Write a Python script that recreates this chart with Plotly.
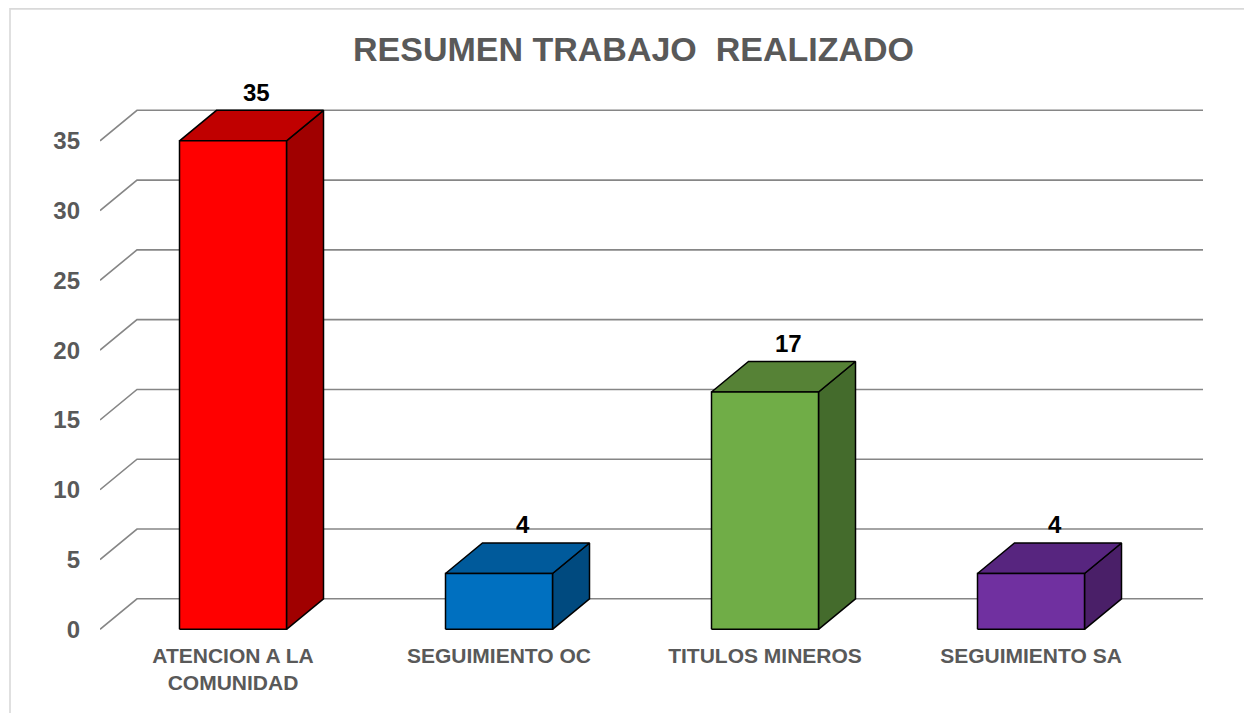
import plotly.graph_objects as go

# ---- data ----
categories = ["ATENCION A LA<br>COMUNIDAD", "SEGUIMIENTO OC", "TITULOS MINEROS", "SEGUIMIENTO SA"]
values = [35, 4, 17, 4]
y_ticks = [0, 5, 10, 15, 20, 25, 30, 35]
front_colors = ["#FF0000", "#0070C0", "#70AD47", "#7030A0"]
top_colors = ["#C00000", "#005A9B", "#568236", "#57257F"]
side_colors = ["#A00000", "#004A7F", "#446B2C", "#4A1F68"]
title_text = "RESUMEN TRABAJO  REALIZADO"

# ---- layout geometry (pixels, page body has an 8px margin) ----
OFF = 8
W, H = 1252 - OFF, 713 - OFF
L, T = 100 - OFF, 90 - OFF
R = W - (1203 - OFF)
B = H - (641 - OFF)
plot_w = W - L - R
plot_h = H - T - B
px_per_x = 266.0
px_per_y = 13.957
x0_px = 233.0 - OFF          # pixel of category 0 centre
y0_px = 629.3 - OFF          # pixel of value 0 (front plane)

x_min = (L - x0_px) / px_per_x
x_max = (W - R - x0_px) / px_per_x
y_min = (y0_px - (H - B)) / px_per_y
y_max = (y0_px - T) / px_per_y

bar_w = 107 / px_per_x
dx = 37 / px_per_x
dy = 30.5 / px_per_y

FONT = "Liberation Sans, Arial, sans-serif"
GRAY_TXT = "#595959"

fig = go.Figure()

# back-wall gridlines with left diagonal
left_edge = x_min
for t in y_ticks:
    fig.add_trace(go.Scatter(
        x=[left_edge, left_edge + dx, x_max],
        y=[t, t + dy, t + dy],
        mode="lines", line=dict(color="#868686", width=1.6),
        hoverinfo="skip", showlegend=False))

# 3D bars
for i, v in enumerate(values):
    xl, xr = i - bar_w / 2, i + bar_w / 2
    # side face
    fig.add_trace(go.Scatter(
        x=[xr, xr + dx, xr + dx, xr, xr],
        y=[0, dy, v + dy, v, 0],
        mode="lines", fill="toself", fillcolor=side_colors[i],
        line=dict(color="#000000", width=1.5),
        hoverinfo="skip", showlegend=False))
    # top face
    fig.add_trace(go.Scatter(
        x=[xl, xr, xr + dx, xl + dx, xl],
        y=[v, v, v + dy, v + dy, v],
        mode="lines", fill="toself", fillcolor=top_colors[i],
        line=dict(color="#000000", width=1.5),
        hoverinfo="skip", showlegend=False))
    # front face
    fig.add_trace(go.Scatter(
        x=[xl, xr, xr, xl, xl],
        y=[0, 0, v, v, 0],
        mode="lines", fill="toself", fillcolor=front_colors[i],
        line=dict(color="#000000", width=1.5),
        hoverinfo="skip", showlegend=False))
    # data label
    fig.add_annotation(
        x=i + dx / 2, y=v + dy, text=f"<b>{v}</b>", showarrow=False,
        xshift=5, yshift=18, yanchor="middle",
        font=dict(family=FONT, size=24, color="#000000"))

# chart border (starts at page pixel (10, 8))
fig.add_shape(
    type="rect", xref="paper", yref="paper",
    x0=(10 - OFF - L) / plot_w, x1=(W + 20 - L) / plot_w,
    y0=(H - B - (H + 20)) / plot_h, y1=(H - B - 0.9) / plot_h,
    line=dict(color="#D9D9D9", width=1.6), fillcolor="rgba(0,0,0,0)", layer="below")

fig.update_layout(
    width=W, height=H,
    margin=dict(l=L, r=R, t=T, b=B, autoexpand=False),
    paper_bgcolor="#FFFFFF", plot_bgcolor="#FFFFFF",
    showlegend=False, hovermode=False,
    title=dict(text=f"<b>{title_text}</b>", x=(633.5 - OFF) / W, xref="container", xanchor="center",
               y=1 - (49.5 - OFF) / H, yref="container", yanchor="middle",
               font=dict(family=FONT, size=34, color=GRAY_TXT)),
    xaxis=dict(range=[x_min, x_max], tickvals=list(range(len(categories))),
               ticktext=[f"<b>{c}</b>".replace("<br>", "</b><br><b>") for c in categories],
               showgrid=False, zeroline=False, showline=False, ticks="",
               tickfont=dict(family=FONT, size=21, color=GRAY_TXT), fixedrange=True),
    yaxis=dict(range=[y_min, y_max], tickvals=y_ticks, ticktext=[f"<b>{t}</b>" for t in y_ticks],
               showgrid=False, zeroline=False, showline=False, ticks="",
               ticklabelstandoff=19,
               tickfont=dict(family=FONT, size=24, color=GRAY_TXT), fixedrange=True),
)

fig.write_html("out.html")
